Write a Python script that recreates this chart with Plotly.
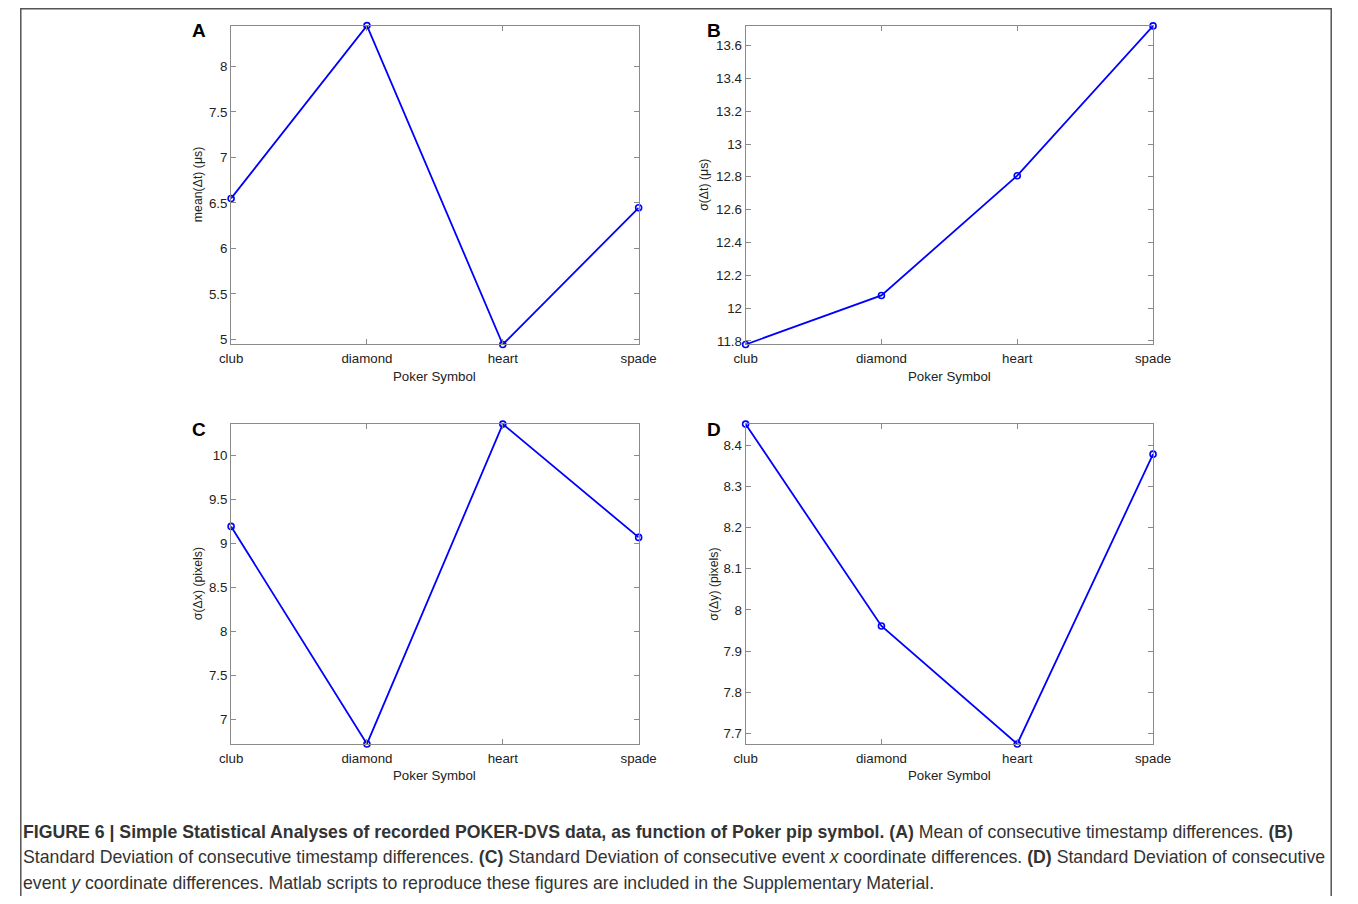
import plotly.graph_objects as go

# Page body keeps its default 8px margin: screen pixel = 8 + figure pixel.
OFF = 8
W, H = 1358 - 2 * OFF, 904 - 2 * OFF
# The photographed page comes out slightly narrowed horizontally
# (x_photo ~= 12 + 0.978 * x_screen); target positions are pre-compensated.
XS, XO = 0.978, 12.0

categories = ["club", "diamond", "heart", "spade"]
mean_dt = [6.55, 8.449, 4.945, 6.447]
sigma_dt = [11.778, 12.077, 12.807, 13.72]
sigma_dx = [9.195, 6.717, 10.36, 9.07]
sigma_dy = [8.452, 7.961, 7.674, 8.379]

ticks_a = [5, 5.5, 6, 6.5, 7, 7.5, 8]
ticks_b = [11.8, 12, 12.2, 12.4, 12.6, 12.8, 13, 13.2, 13.4, 13.6]
ticks_c = [7, 7.5, 8, 8.5, 9, 9.5, 10]
ticks_d = [7.7, 7.8, 7.9, 8, 8.1, 8.2, 8.3, 8.4]

ylabels = ["mean(Δt) (μs)", "σ(Δt) (μs)", "σ(Δx) (pixels)", "σ(Δy) (pixels)"]
panel_letters = ["A", "B", "C", "D"]
xlabel = "Poker Symbol"

caption_lines = [
    "<b>FIGURE 6 | Simple Statistical Analyses of recorded POKER-DVS data, as function of Poker pip symbol. (A)</b> Mean of consecutive timestamp differences. <b>(B)</b>",
    "Standard Deviation of consecutive timestamp differences. <b>(C)</b> Standard Deviation of consecutive event <i>x</i> coordinate differences. <b>(D)</b> Standard Deviation of consecutive",
    "event <i>y</i> coordinate differences. Matlab scripts to reproduce these figures are included in the Supplementary Material.",
]

series = [mean_dt, sigma_dt, sigma_dx, sigma_dy]
tick_sets = [ticks_a, ticks_b, ticks_c, ticks_d]

# target pixel boxes of the plot areas (left, right, top, bottom)
boxes = [
    (231, 638.7, 25.7, 346),
    (745.7, 1153.3, 26, 346),
    (231, 638.7, 426, 747.3),
    (745.7, 1153.3, 426, 747.3),
]
ytitle_gap = [33, 41, 33, 32]


def px(xt):
    xs = (xt - XO) / XS
    return min(max((xs - OFF) / W, 0.0006), 0.9994)


def py(sy):
    return 1 - (sy - OFF) / H


def fmt(v):
    return ("%.2f" % v).rstrip("0").rstrip(".")


FONT = "Liberation Sans, Arial, Helvetica, sans-serif"
BLUE = "#0000ff"
AXC = "#8a8a8a"
TXT = "#222222"

fig = go.Figure()
layout = dict(
    width=W, height=H,
    margin=dict(l=0, r=0, t=0, b=0),
    paper_bgcolor="white", plot_bgcolor="white",
    showlegend=False,
    font=dict(family=FONT, size=13, color=TXT),
)
annotations = []

for i, (vals, tks, box) in enumerate(zip(series, tick_sets, boxes)):
    n = "" if i == 0 else str(i + 1)
    l, r, t, b = box
    fig.add_trace(go.Scatter(
        x=categories, y=vals, mode="lines+markers",
        xaxis="x" + n, yaxis="y" + n,
        line=dict(color=BLUE, width=1.8),
        marker=dict(symbol="circle-open", size=6, color=BLUE,
                    line=dict(width=1.6, color=BLUE)),
        cliponaxis=False,
    ))
    layout["xaxis" + n] = dict(
        domain=[px(l), px(r)], anchor="y" + n,
        type="category", categoryorder="array", categoryarray=categories,
        range=[0, len(categories) - 1],
        showline=True, linecolor=AXC, linewidth=1, mirror="ticks",
        ticks="inside", ticklen=5, tickcolor=AXC, tickwidth=1,
        ticklabelstandoff=2,
        showgrid=False, zeroline=False,
        tickfont=dict(family=FONT, size=13.3, color=TXT),
        fixedrange=True,
    )
    layout["yaxis" + n] = dict(
        domain=[py(b), py(t)], anchor="x" + n,
        range=[min(vals), max(vals)],
        tickvals=tks, ticktext=[fmt(v) for v in tks],
        showline=True, linecolor=AXC, linewidth=1, mirror="ticks",
        ticks="inside", ticklen=5, tickcolor=AXC, tickwidth=1,
        showgrid=False, zeroline=False,
        tickfont=dict(family=FONT, size=13.3, color=TXT),
        fixedrange=True,
    )
    annotations.append(dict(
        text=ylabels[i], textangle=-90, showarrow=False,
        xref="paper", yref="paper",
        x=px(l - ytitle_gap[i]), y=py((t + b) / 2),
        xanchor="center", yanchor="middle",
        font=dict(family=FONT, size=12.3, color=TXT),
    ))
    annotations.append(dict(
        text=xlabel, showarrow=False,
        xref="paper", yref="paper",
        x=px((l + r) / 2), y=py(b + 32),
        xanchor="center", yanchor="middle",
        font=dict(family=FONT, size=13.3, color=TXT),
    ))
    annotations.append(dict(
        text="<b>" + panel_letters[i] + "</b>", showarrow=False,
        xref="paper", yref="paper",
        x=px(l - 32), y=py(t + 5),
        xanchor="center", yanchor="middle",
        font=dict(family=FONT, size=19, color="#000"),
    ))

cap_y = [836, 861, 887]
for line, yy in zip(caption_lines, cap_y):
    annotations.append(dict(
        text=line, showarrow=False, xref="paper", yref="paper",
        x=px(19), y=py(yy), xanchor="left", yanchor="middle",
        font=dict(family=FONT, size=17.7, color="#333"),
    ))

layout["annotations"] = annotations
layout["shapes"] = [dict(
    type="rect", xref="paper", yref="paper",
    x0=0.0006, x1=0.9994, y0=-0.05, y1=py(8.8),
    line=dict(color="#555", width=1.5), fillcolor="rgba(0,0,0,0)", layer="below",
)]
fig.update_layout(**layout)
fig.write_html("out.html", config={"displayModeBar": False})
